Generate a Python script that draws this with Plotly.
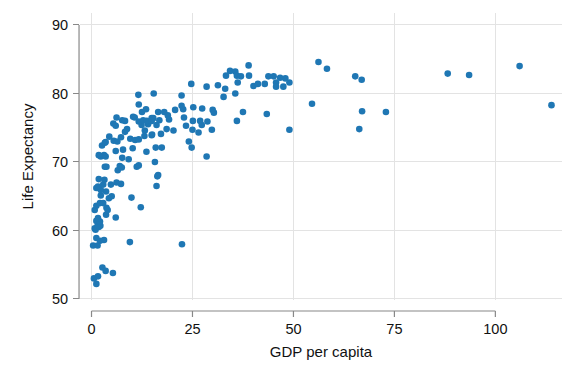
import plotly.graph_objects as go

# GDP per capita (thousands) and life expectancy
gdp = [
    0.4, 1.5, 1.2, 2.1, 3.1, 9.5, 22.4, 2.7, 3.5, 5.3, 0.6, 1.6, 1.2,
    0.8, 1.8, 1.0, 2.2, 1.5, 1.2, 2.1, 1.6, 6.0, 3.6, 0.8, 3.7, 4.0, 12.2, 1.2, 2.1, 2.9,
    2.3, 4.3, 5.0, 9.9, 3.6, 1.2, 2.3, 1.6, 2.9, 4.8, 6.2, 7.3, 1.8, 3.2, 16.1, 16.3, 16.5,
    3.3, 3.7, 6.5, 7.0, 7.5, 11.2, 11.7, 15.7, 2.3, 3.1, 1.8, 3.5, 7.6, 9.2, 28.5,
    2.6, 3.3, 3.5, 6.0, 7.8, 10.2, 13.6, 15.9, 17.4, 24.1, 24.8, 5.5, 6.4, 9.6, 10.8, 11.7,
    4.4, 7.3, 13.1, 15.0, 17.2,
    8.3, 8.8, 13.2, 14.9, 18.6, 20.3, 25.0, 26.5, 29.8, 23.4, 16.1, 12.4, 14.0, 5.4, 6.0, 27.3,
    6.2, 7.6, 8.3, 10.7, 11.7, 12.8, 13.7, 14.9, 15.3, 14.9, 16.8, 18.9, 19.2, 22.9, 25.1,
    26.9, 28.7, 36.0, 10.3, 12.5, 13.5, 16.5, 18.0, 20.7, 22.7, 22.3, 25.2, 27.4, 30.0, 30.3,
    37.5, 43.4,
    11.6, 11.7, 15.4, 22.3, 24.7, 28.5, 31.3, 33.1, 32.7, 35.6, 34.3, 35.6, 33.3, 36.0, 37.0,
    38.9, 39.0, 36.2, 40.1, 41.2, 42.9, 43.8, 45.1, 46.7, 48.0, 45.7, 45.7, 47.5, 49.0, 49.0,
    54.6, 56.2, 58.3, 65.3, 66.9, 67.0, 72.9, 66.3, 88.2, 93.5, 106.0, 113.9,
]
life = [
    57.8, 57.8, 58.9, 58.5, 58.6, 58.3, 58.0, 54.6, 54.1, 53.8, 53.0, 53.3, 52.2,
    60.3, 60.5, 60.1, 60.7, 60.7, 61.4, 61.3, 61.8, 61.9, 62.3, 63.0, 63.3, 63.0, 63.4, 63.6, 64.0, 64.0,
    65.1, 64.7, 65.0, 64.8, 65.7, 66.2, 65.9, 66.4, 66.7, 66.7, 67.0, 66.8, 67.5, 67.4, 66.5, 67.9, 68.1,
    69.3, 69.3, 68.8, 69.4, 69.2, 69.3, 69.5, 70.0, 70.8, 71.0, 71.0, 70.8, 70.6, 70.4, 70.8,
    72.4, 72.8, 72.9, 71.6, 71.8, 72.0, 71.5, 72.1, 72.1, 73.0, 72.1, 73.1, 73.0, 73.4, 73.2, 73.3,
    73.7, 73.6, 73.8, 74.0, 74.1,
    74.4, 74.8, 74.6, 73.9, 74.8, 74.6, 74.7, 74.3, 74.7, 75.3, 75.4, 75.4, 75.5, 75.6, 75.3, 75.4,
    76.5, 76.1, 76.0, 76.5, 75.9, 76.1, 76.0, 76.4, 76.4, 76.0, 76.1, 76.8, 76.2, 76.5, 76.0,
    76.0, 75.9, 76.0, 76.6, 77.3, 77.7, 77.3, 77.3, 77.6, 77.7, 78.2, 78.0, 77.8, 77.6, 77.2,
    77.3, 77.0,
    79.8, 78.4, 80.0, 79.7, 81.4, 81.0, 81.2, 80.7, 79.5, 80.0, 83.3, 83.2, 82.6, 82.6, 82.5,
    84.1, 82.6, 81.6, 81.1, 81.4, 81.4, 82.5, 82.5, 82.3, 82.2, 81.6, 81.0, 81.0, 81.6, 74.7,
    78.5, 84.6, 83.6, 82.5, 82.0, 77.4, 77.3, 74.8, 82.9, 82.7, 84.0, 78.3,
]

x_ticks = [0, 25, 50, 75, 100]
y_ticks = [50, 60, 70, 80, 90]

X_RANGE = [-2.85, 116.5]
Y_RANGE = [49.85, 91.75]
AXIS_COLOR = "#888888"
GRID_COLOR = "#e3e3e3"

fig = go.Figure()
fig.add_trace(go.Scatter(
    x=gdp, y=life, mode="markers",
    marker=dict(color="#1f77b4", size=6.6, line=dict(width=0)),
    hoverinfo="skip", showlegend=False,
))

plot_h = 384 - 13 - 84
off_line = -11 / plot_h
off_tick = -17 / plot_h

shapes = [dict(type="line", xref="x", yref="paper", x0=x_ticks[0], x1=x_ticks[-1],
               y0=off_line, y1=off_line, line=dict(color=AXIS_COLOR, width=1.2))]
for t in x_ticks:
    shapes.append(dict(type="line", xref="x", yref="paper", x0=t, x1=t,
                       y0=off_line, y1=off_tick, line=dict(color=AXIS_COLOR, width=1.2)))
shapes.append(dict(type="line", xref="paper", yref="y", x0=-0.002, x1=-0.002,
                   y0=y_ticks[0], y1=y_ticks[-1], line=dict(color=AXIS_COLOR, width=1.2)))

fig.update_layout(
    width=576, height=384,
    margin=dict(l=80, r=14, t=13, b=84),
    paper_bgcolor="white", plot_bgcolor="white",
    font=dict(family="Liberation Sans, Arial, sans-serif", size=14.5, color="#111111"),
    shapes=shapes,
    xaxis=dict(
        range=X_RANGE, tickvals=x_ticks, ticktext=[str(t) for t in x_ticks],
        showgrid=True, gridcolor=GRID_COLOR, gridwidth=1, zeroline=False,
        showline=False, ticks="", ticklabelstandoff=18, automargin=False,
        title=dict(text="GDP per capita", font=dict(size=15), standoff=10),
    ),
    yaxis=dict(
        range=Y_RANGE, tickvals=y_ticks, ticktext=[str(t) for t in y_ticks],
        showgrid=True, gridcolor=GRID_COLOR, gridwidth=1, zeroline=False,
        showline=False, ticks="outside", ticklen=6, tickcolor=AXIS_COLOR, tickwidth=1.2,
        ticklabelstandoff=2, automargin=False,
        title=dict(text="Life Expectancy", font=dict(size=15), standoff=14),
    ),
)

fig.write_html("out.html", config={"displayModeBar": False},
               post_script="document.body.style.margin='0';")
